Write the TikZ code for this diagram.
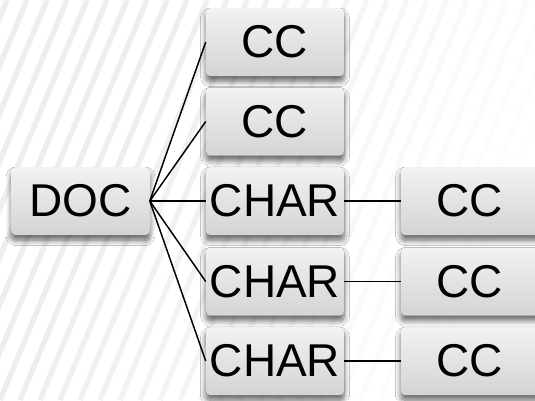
\documentclass[tikz,border=0pt]{standalone}
\usepackage{fontspec}
\setmainfont{Liberation Sans}
\usetikzlibrary{shadows.blur}
\definecolor{boxtop}{RGB}{242,242,242}
\definecolor{boxbot}{RGB}{212,212,212}
\definecolor{boxshade}{RGB}{110,92,80}
\tikzset{
  tbox/.style={rectangle, rounded corners=3pt, minimum width=103.5pt, minimum height=51pt,
    inner sep=0pt, top color=boxtop, bottom color=boxbot, draw=none,
    blur shadow={shadow xshift=0pt, shadow yshift=-4pt, shadow blur steps=8, shadow opacity=60,
      shadow blur extra rounding=2pt, shadow blur radius=4pt, fill=boxshade},
    font=\fontsize{34.5}{34.5}\selectfont},
  link/.style={draw=black, line width=1.1pt},
  stripe/.style={line width=4pt, color=gray!13}
}
\begin{document}
\begin{tikzpicture}[x=0.75pt,y=0.75pt,yscale=-1,xscale=1]
\useasboundingbox (0,0) rectangle (535,400);
%Background
\fill[white] (0,0) rectangle (535,400);
\foreach \i in {-9,...,22} {
  \pgfmathsetmacro{\op}{max(0,min(1,1.0-\i/22))}
  \draw[stripe, opacity=\op] (\i*20,400) -- ++(167,-400);
}

% Text Node
\node[tbox] (doc) at (80.5,201) {DOC};
% Text Node
\node[tbox] (cca) at (275,42) {CC};
\node[tbox] (ccb) at (275,121.5) {CC};
\node[tbox] (chara) at (275,201) {CHAR};
\node[tbox] (charb) at (275,281.5) {CHAR};
\node[tbox] (charc) at (275,361) {CHAR};
% Text Node
\node[tbox] (ccc) at (470,201) {CC};
\node[tbox] (ccd) at (470,281.5) {CC};
\node[tbox] (cce) at (470,361) {CC};

%Straight Lines
\foreach \t in {cca,ccb,chara,charb,charc}
  \draw[link] (doc.east) -- (\t.west);
%Straight Lines
\draw[link] (chara.east) -- (ccc.west);
\draw[link] (charb.east) -- (ccd.west);
\draw[link] (charc.east) -- (cce.west);

\end{tikzpicture}
\end{document}
